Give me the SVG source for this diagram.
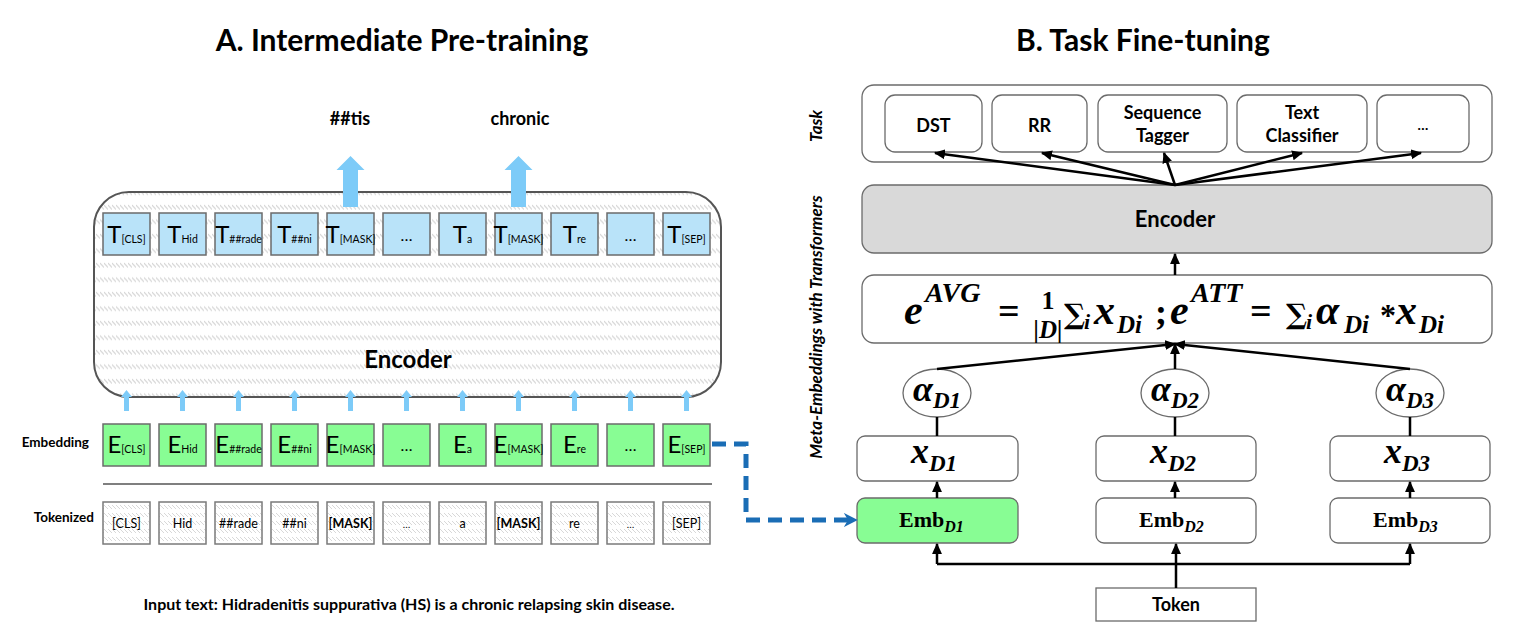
<svg xmlns="http://www.w3.org/2000/svg" width="1523" height="635" viewBox="0 0 1523 635">
<defs>
<pattern id="hatch" width="4" height="14.5" patternUnits="userSpaceOnUse"><rect width="4" height="14.5" fill="#fff"/><path d="M0,2 L4,6.5" stroke="#d4d4d4" stroke-width="1.1"/></pattern>
<pattern id="hatch2" width="4" height="8" patternUnits="userSpaceOnUse"><rect width="4" height="8" fill="#fff"/><path d="M0,1 L4,5" stroke="#d8d8d8" stroke-width="1"/></pattern>
<marker id="ah" viewBox="0 0 10 10" refX="9" refY="5" markerWidth="11" markerHeight="11" markerUnits="userSpaceOnUse" orient="auto"><path d="M0,0.5 L10,5 L0,9.5 z" fill="#000"/></marker>
<marker id="bh" viewBox="0 0 10 10" refX="8" refY="5" markerWidth="14" markerHeight="14" markerUnits="userSpaceOnUse" orient="auto"><path d="M0,0 L10,5 L0,10 L3,5 z" fill="#1a6db5"/></marker>
<path id="sa" d="M-2.5,411 V397 H-5.5 L0,390 L5.5,397 H2.5 V411 Z" fill="#7dcbf8"/>
<style>
.lt{font-family:Lato,"Liberation Sans",sans-serif;fill:#000}
.b{font-weight:bold}
.tb{fill:#b9e3f9;stroke:#6b6b6b;stroke-width:1.5}
.eb{fill:#88fd94;stroke:#6b6b6b;stroke-width:1.5}
.kb{fill:url(#hatch2);stroke:#7a7a7a;stroke-width:1.5}
.big{font-size:24px}
.sub{font-size:10.5px}
.tk{font-size:12.5px}
.rb{fill:#fff;stroke:#6b6b6b;stroke-width:1.3}
.m{font-family:"Liberation Serif","DejaVu Serif",serif;font-weight:bold;font-style:italic;fill:#000}
.mu{font-family:"Liberation Serif","DejaVu Serif",serif;font-weight:bold;fill:#000}
.sg{font-family:"DejaVu Serif",serif;font-weight:bold;fill:#000}
.ln{stroke:#000;stroke-width:2.5;fill:none}
</style>
</defs>
<rect width="1523" height="635" fill="#fff"/>

<!-- Titles -->
<text class="lt b" x="402" y="51" font-size="30" text-anchor="middle">A. Intermediate Pre-training</text>
<text class="lt b" x="1143" y="51" font-size="30" text-anchor="middle">B. Task Fine-tuning</text>

<!-- Left panel -->
<g id="predictions">
<text class="lt b" x="350" y="125" font-size="18" text-anchor="middle">##tis</text>
<text class="lt b" x="520" y="125" font-size="18" text-anchor="middle">chronic</text>
</g>

<g id="encoderA">
<rect x="94" y="192" width="627" height="205" rx="35" fill="url(#hatch)" stroke="#555" stroke-width="2"/>
<text class="lt b" x="408" y="368" font-size="24" text-anchor="middle">Encoder</text>
</g>

<g id="bigArrows" fill="#7dcbf8">
<path d="M343,207 V170 H336.5 L350.5,156 L364.5,170 H358 V207 Z"/>
<path d="M511,207 V170 H504.5 L518.5,156 L532.5,170 H526 V207 Z"/>
</g>

<g id="outputs">
<rect class="tb" x="103" y="213" width="47" height="42"/>
<rect class="tb" x="159" y="213" width="47" height="42"/>
<rect class="tb" x="215" y="213" width="47" height="42"/>
<rect class="tb" x="271" y="213" width="47" height="42"/>
<rect class="tb" x="327" y="213" width="47" height="42"/>
<rect class="tb" x="383" y="213" width="47" height="42"/>
<rect class="tb" x="439" y="213" width="47" height="42"/>
<rect class="tb" x="495" y="213" width="47" height="42"/>
<rect class="tb" x="551" y="213" width="47" height="42"/>
<rect class="tb" x="607" y="213" width="47" height="42"/>
<rect class="tb" x="663" y="213" width="47" height="42"/>
<g class="lt" text-anchor="middle">
<text x="126.5" y="243"><tspan class="big">T</tspan><tspan class="sub">[CLS]</tspan></text>
<text x="182.5" y="243"><tspan class="big">T</tspan><tspan class="sub" font-size="12">Hid</tspan></text>
<text x="238.5" y="243"><tspan class="big">T</tspan><tspan class="sub">##rade</tspan></text>
<text x="294.5" y="243"><tspan class="big">T</tspan><tspan class="sub">##ni</tspan></text>
<text x="350.5" y="243"><tspan class="big">T</tspan><tspan class="sub" font-size="9.5">[MASK]</tspan></text>
<text x="406.5" y="241" font-size="16">…</text>
<text x="462.5" y="243"><tspan class="big">T</tspan><tspan class="sub" font-size="12">a</tspan></text>
<text x="518.5" y="243"><tspan class="big">T</tspan><tspan class="sub" font-size="9.5">[MASK]</tspan></text>
<text x="574.5" y="243"><tspan class="big">T</tspan><tspan class="sub" font-size="12">re</tspan></text>
<text x="630.5" y="241" font-size="16">…</text>
<text x="686.5" y="243"><tspan class="big">T</tspan><tspan class="sub">[SEP]</tspan></text>
</g>
</g>

<g id="smallArrows">
<use href="#sa" x="126.5"/><use href="#sa" x="182.5"/><use href="#sa" x="238.5"/><use href="#sa" x="294.5"/>
<use href="#sa" x="350.5"/><use href="#sa" x="406.5"/><use href="#sa" x="462.5"/><use href="#sa" x="518.5"/>
<use href="#sa" x="574.5"/><use href="#sa" x="630.5"/><use href="#sa" x="686.5"/>
</g>

<g id="embeddings">
<text class="lt b" x="89" y="447" font-size="13.5" text-anchor="end">Embedding</text>
<rect class="eb" x="103" y="424" width="47" height="42"/>
<rect class="eb" x="159" y="424" width="47" height="42"/>
<rect class="eb" x="215" y="424" width="47" height="42"/>
<rect class="eb" x="271" y="424" width="47" height="42"/>
<rect class="eb" x="327" y="424" width="47" height="42"/>
<rect class="eb" x="383" y="424" width="47" height="42"/>
<rect class="eb" x="439" y="424" width="47" height="42"/>
<rect class="eb" x="495" y="424" width="47" height="42"/>
<rect class="eb" x="551" y="424" width="47" height="42"/>
<rect class="eb" x="607" y="424" width="47" height="42"/>
<rect class="eb" x="663" y="424" width="47" height="42"/>
<g class="lt" text-anchor="middle">
<text x="126.5" y="453"><tspan class="big">E</tspan><tspan class="sub">[CLS]</tspan></text>
<text x="182.5" y="453"><tspan class="big">E</tspan><tspan class="sub" font-size="12">Hid</tspan></text>
<text x="238.5" y="453"><tspan class="big">E</tspan><tspan class="sub">##rade</tspan></text>
<text x="294.5" y="453"><tspan class="big">E</tspan><tspan class="sub">##ni</tspan></text>
<text x="350.5" y="453"><tspan class="big">E</tspan><tspan class="sub" font-size="9.5">[MASK]</tspan></text>
<text x="406.5" y="451" font-size="16">…</text>
<text x="462.5" y="453"><tspan class="big">E</tspan><tspan class="sub" font-size="12">a</tspan></text>
<text x="518.5" y="453"><tspan class="big">E</tspan><tspan class="sub" font-size="9.5">[MASK]</tspan></text>
<text x="574.5" y="453"><tspan class="big">E</tspan><tspan class="sub" font-size="12">re</tspan></text>
<text x="630.5" y="451" font-size="16">…</text>
<text x="686.5" y="453"><tspan class="big">E</tspan><tspan class="sub">[SEP]</tspan></text>
</g>
</g>

<line x1="103" y1="484" x2="712" y2="484" stroke="#7f7f7f" stroke-width="2"/>

<g id="tokenized">
<text class="lt b" x="94" y="522" font-size="13.5" text-anchor="end">Tokenized</text>
<rect class="kb" x="103" y="502" width="47" height="42"/>
<rect class="kb" x="159" y="502" width="47" height="42"/>
<rect class="kb" x="215" y="502" width="47" height="42"/>
<rect class="kb" x="271" y="502" width="47" height="42"/>
<rect class="kb" x="327" y="502" width="47" height="42"/>
<rect class="kb" x="383" y="502" width="47" height="42"/>
<rect class="kb" x="439" y="502" width="47" height="42"/>
<rect class="kb" x="495" y="502" width="47" height="42"/>
<rect class="kb" x="551" y="502" width="47" height="42"/>
<rect class="kb" x="607" y="502" width="47" height="42"/>
<rect class="kb" x="663" y="502" width="47" height="42"/>
<g class="lt tk" text-anchor="middle">
<text x="126.5" y="528">[CLS]</text>
<text x="182.5" y="528">Hid</text>
<text x="238.5" y="528">##rade</text>
<text x="294.5" y="528">##ni</text>
<text x="350.5" y="528" class="b">[MASK]</text>
<text x="406.5" y="528" font-size="10">…</text>
<text x="462.5" y="528">a</text>
<text x="518.5" y="528" class="b">[MASK]</text>
<text x="574.5" y="528">re</text>
<text x="630.5" y="528" font-size="10">…</text>
<text x="686.5" y="528">[SEP]</text>
</g>
</g>

<text class="lt b" x="409" y="610" font-size="16" text-anchor="middle">Input text: Hidradenitis suppurativa (HS) is a chronic relapsing skin disease.</text>

<!-- Right panel -->
<g id="sideLabels" class="lt b" font-style="italic" font-size="17" text-anchor="middle">
<text transform="translate(822,126) rotate(-90)">Task</text>
<text transform="translate(822,327) rotate(-90)">Meta-Embeddings with Transformers</text>
</g>

<g id="task">
<rect x="862" y="85" width="630" height="77" rx="12" fill="#fff" stroke="#6b6b6b" stroke-width="1.3"/>
<rect class="rb" x="885" y="95" width="97" height="57" rx="10"/>
<rect class="rb" x="992" y="95" width="95" height="57" rx="10"/>
<rect class="rb" x="1098" y="95" width="129" height="57" rx="10"/>
<rect class="rb" x="1237" y="95" width="130" height="57" rx="10"/>
<rect class="rb" x="1377" y="95" width="92" height="57" rx="10"/>
<g class="lt b" font-size="18" text-anchor="middle">
<text x="933.5" y="132">DST</text>
<text x="1039.5" y="132">RR</text>
<text x="1162.5" y="119">Sequence</text>
<text x="1162.5" y="142">Tagger</text>
<text x="1302" y="119">Text</text>
<text x="1302" y="142">Classifier</text>
<text x="1423" y="130" font-size="14">…</text>
</g>
</g>

<g id="encoderB">
<rect x="862" y="185" width="630" height="68" rx="12" fill="#d9d9d9" stroke="#6b6b6b" stroke-width="1.3"/>
<text class="lt b" x="1175" y="227" font-size="22" text-anchor="middle">Encoder</text>
</g>

<g id="formula">
<rect x="862" y="275" width="630" height="68" rx="12" fill="#fff" stroke="#6b6b6b" stroke-width="1.3"/>
<text class="m" x="904" y="324" font-size="42">e</text>
<text class="m" x="925" y="302" font-size="28">AVG</text>
<text class="mu" x="998" y="324" font-size="38">=</text>
<text class="mu" x="1048" y="309" font-size="26" text-anchor="middle">1</text>
<text class="m" x="1048" y="338" font-size="25" text-anchor="middle">|D|</text>
<text class="sg" x="1064" y="324" font-size="28">∑</text>
<text class="m" x="1084" y="329" font-size="22">i</text>
<text class="m" x="1094" y="324" font-size="42">x</text>
<text class="m" x="1117" y="333" font-size="25">Di</text>
<text class="mu" x="1155" y="324" font-size="36">;</text>
<text class="m" x="1170" y="324" font-size="42">e</text>
<text class="m" x="1191" y="302" font-size="28">ATT</text>
<text class="mu" x="1250" y="324" font-size="38">=</text>
<text class="sg" x="1286" y="324" font-size="28">∑</text>
<text class="m" x="1306" y="329" font-size="22">i</text>
<text class="m" x="1316" y="324" font-size="42">α</text>
<text class="m" x="1344" y="333" font-size="25">Di</text>
<text class="mu" x="1380" y="326" font-size="32">*</text>
<text class="m" x="1396" y="324" font-size="42">x</text>
<text class="m" x="1419" y="333" font-size="25">Di</text>
</g>

<g id="alpha1"><ellipse cx="937" cy="393" rx="34" ry="24" fill="#fff" stroke="#6b6b6b" stroke-width="1.3"/><text class="m" x="913" y="401" font-size="36">α<tspan font-size="23" dy="7">D1</tspan></text></g>
<g id="alpha2"><ellipse cx="1175" cy="393" rx="34" ry="24" fill="#fff" stroke="#6b6b6b" stroke-width="1.3"/><text class="m" x="1151" y="401" font-size="36">α<tspan font-size="23" dy="7">D2</tspan></text></g>
<g id="alpha3"><ellipse cx="1410" cy="393" rx="34" ry="24" fill="#fff" stroke="#6b6b6b" stroke-width="1.3"/><text class="m" x="1386" y="401" font-size="36">α<tspan font-size="23" dy="7">D3</tspan></text></g>

<g id="x1"><rect class="rb" x="857" y="436" width="161" height="45" rx="8"/><text class="m" x="911" y="463" font-size="36">x<tspan font-size="23" dy="8">D1</tspan></text></g>
<g id="x2"><rect class="rb" x="1096" y="436" width="160" height="45" rx="8"/><text class="m" x="1150" y="463" font-size="36">x<tspan font-size="23" dy="8">D2</tspan></text></g>
<g id="x3"><rect class="rb" x="1330" y="436" width="160" height="45" rx="8"/><text class="m" x="1384" y="463" font-size="36">x<tspan font-size="23" dy="8">D3</tspan></text></g>

<g id="emb1"><rect x="857" y="498" width="161" height="45" rx="8" fill="#88fd94" stroke="#6b6b6b" stroke-width="1.3"/><text class="mu" x="899" y="527" font-size="22">Emb<tspan class="m" font-size="16" dy="5">D1</tspan></text></g>
<g id="emb2"><rect class="rb" x="1096" y="498" width="160" height="45" rx="8"/><text class="mu" x="1139" y="527" font-size="22">Emb<tspan class="m" font-size="16" dy="5">D2</tspan></text></g>
<g id="emb3"><rect class="rb" x="1330" y="498" width="160" height="45" rx="8"/><text class="mu" x="1373" y="527" font-size="22">Emb<tspan class="m" font-size="16" dy="5">D3</tspan></text></g>

<g id="token"><rect x="1096" y="588" width="160" height="33" fill="#fff" stroke="#6b6b6b" stroke-width="1.3"/><text class="lt b" x="1176" y="611" font-size="18" text-anchor="middle">Token</text></g>

<g id="connectors">
<path class="ln" d="M1175,185 L935,153" marker-end="url(#ah)"/>
<path class="ln" d="M1175,185 L1042,153" marker-end="url(#ah)"/>
<path class="ln" d="M1175,185 L1164,153" marker-end="url(#ah)"/>
<path class="ln" d="M1175,185 L1302,153" marker-end="url(#ah)"/>
<path class="ln" d="M1175,185 L1421,153" marker-end="url(#ah)"/>
<path class="ln" d="M1175,275 V254" marker-end="url(#ah)"/>
<path class="ln" d="M937,369 L1175,344" marker-end="url(#ah)"/>
<path class="ln" d="M1410,369 L1175,344" marker-end="url(#ah)"/>
<path class="ln" d="M1175,369 V344" marker-end="url(#ah)"/>
<path class="ln" d="M937,417 V436 M1175,417 V436 M1410,417 V436"/>
<path class="ln" d="M937,498 V482" marker-end="url(#ah)"/>
<path class="ln" d="M1175,498 V482" marker-end="url(#ah)"/>
<path class="ln" d="M1410,498 V482" marker-end="url(#ah)"/>
<path class="ln" d="M1176,588 V564 M937,564 H1410"/>
<path class="ln" d="M937,564 V544" marker-end="url(#ah)"/>
<path class="ln" d="M1176,564 V544" marker-end="url(#ah)"/>
<path class="ln" d="M1410,564 V544" marker-end="url(#ah)"/>
<path d="M712,444 H746 V520 H855" fill="none" stroke="#1a6db5" stroke-width="5" stroke-dasharray="14 8" marker-end="url(#bh)"/>
</g>
</svg>
